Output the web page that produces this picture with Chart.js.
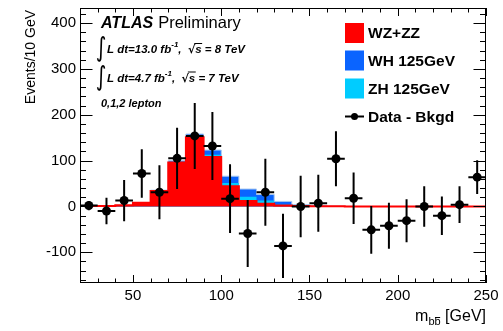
<!DOCTYPE html>
<html>
<head>
<meta charset="utf-8">
<script src="https://cdn.jsdelivr.net/npm/chart.js@4.4.1/dist/chart.umd.min.js"></script>
<style>
html,body{margin:0;padding:0;background:#fff;}
canvas{display:block;}
</style>
</head>
<body>
<canvas id="c" width="503" height="331"></canvas>
<script>
// ---- data ----
const binCenters = [25,35,45,55,65,75,85,95,105,115,125,135,145,155,165,175,185,195,205,215,225,235,245];
const wzzz   = [1,1,2.5,8,34,96,151,108,44,12,6,2,1,0.5,0.5,0,0,0,0,0,0,0,0];
const zh125  = [0,0,0,0,0.5,1.5,3,5,7,9,7,2,1,0.5,0,0,0,0,0,0,0,0,0];
const wh125  = [0,0,0,0,1,2,4,10,15,17,13,7,2,1,0.5,0,0,0,0,0,0,0,0];
const dataY  = [2,-10,13,72,31,105,154,132,17,-59,31,-86,0,7,104,18,-51,-42,-31,0,-20,4,64];
const dataErr= [10,29,45,53,59,67,72,74,75,73,73,70,67,62,60,56,52,50,47,44,42,40,37];
const binWidth = 10;
const xTickLabels = [50,100,150,200,250];
const yTickLabels = [-100,0,100,200,300,400];

const RED = '#ff0000', BLUE = '#0a64ff', CYAN = '#00ccff';
const FONT = '"Liberation Sans", Arial, Helvetica, sans-serif';

function stepPoints(vals){
  const pts = vals.map((v,i)=>({x: binCenters[i]-binWidth/2, y: v}));
  pts.push({x: binCenters[binCenters.length-1]+binWidth/2, y: vals[vals.length-1]});
  return pts;
}
const cumRed = wzzz.slice();
const cumZH = wzzz.map((v,i)=>v+zh125[i]);
const cumWH = cumZH.map((v,i)=>v+wh125[i]);

const decor = {
  id:'decor',
  afterDatasetsDraw(chart){
    const ctx = chart.ctx, xs = chart.scales.x, ys = chart.scales.y, a = chart.chartArea;
    ctx.save();
    ctx.strokeStyle = '#000'; ctx.lineWidth = 2;
    ctx.beginPath();
    ctx.rect(a.left, a.top, a.right-a.left, a.bottom-a.top); ctx.clip();
    ctx.beginPath();
    binCenters.forEach((c,i)=>{
      const px = xs.getPixelForValue(c), py = ys.getPixelForValue(dataY[i]);
      ctx.moveTo(px, ys.getPixelForValue(dataY[i]-dataErr[i]));
      ctx.lineTo(px, ys.getPixelForValue(dataY[i]+dataErr[i]));
      ctx.moveTo(xs.getPixelForValue(c-binWidth/2), py);
      ctx.lineTo(xs.getPixelForValue(c+binWidth/2), py);
    });
    ctx.stroke();
    ctx.restore();
  },
  afterDraw(chart){
    const ctx = chart.ctx, xs = chart.scales.x, ys = chart.scales.y, a = chart.chartArea;
    ctx.save();
    ctx.strokeStyle = '#000'; ctx.lineWidth = 1;
    ctx.strokeRect(a.left+0.5, a.top+0.5, a.right-a.left-1, a.bottom-a.top-1);
    ctx.beginPath();
    for(let v=-160; v<=430; v+=20){
      const py = Math.round(ys.getPixelForValue(v))+0.5;
      const L = (v%100===0)?12.5:6;
      ctx.moveTo(a.left, py); ctx.lineTo(a.left+L, py);
      ctx.moveTo(a.right, py); ctx.lineTo(a.right-L, py);
    }
    for(let v=20; v<=250; v+=10){
      const px = Math.round(xs.getPixelForValue(v))+0.5;
      const L = (v%50===0)?8:4.5;
      ctx.moveTo(px, a.bottom); ctx.lineTo(px, a.bottom-L);
      ctx.moveTo(px, a.top); ctx.lineTo(px, a.top+L);
    }
    ctx.stroke();

    ctx.fillStyle = '#000';
    ctx.save();
    ctx.translate(35, 10); ctx.rotate(-Math.PI/2);
    ctx.font = '14px '+FONT; ctx.textAlign='right'; ctx.textBaseline='alphabetic';
    ctx.fillText('Events/10 GeV', 0, 0);
    ctx.restore();

    ctx.textBaseline='alphabetic'; ctx.textAlign='left';
    const f1 = '16px '+FONT, f2 = '11px '+FONT;
    ctx.font = f1; const wG = ctx.measureText(' [GeV]').width, wm = ctx.measureText('m').width;
    ctx.font = f2; const wb = ctx.measureText('b').width;
    let x0 = 486 - wG - 2*wb - wm;
    ctx.font = f1; ctx.fillText('m', x0, 321);
    ctx.font = f2; ctx.fillText('b', x0+wm, 325); ctx.fillText('b', x0+wm+wb, 325);
    ctx.beginPath(); ctx.lineWidth=1;
    ctx.moveTo(x0+wm+wb+0.5, 317.5); ctx.lineTo(x0+wm+2*wb-0.5, 317.5); ctx.stroke();
    ctx.font = f1; ctx.fillText(' [GeV]', x0+wm+2*wb, 321);

    ctx.font = 'italic bold 16px '+FONT;
    ctx.fillText('ATLAS', 101, 28);
    const wA = ctx.measureText('ATLAS').width;
    ctx.font = '16.5px '+FONT;
    ctx.fillText('Preliminary', 101+wA+5, 28);

    function lumiLine(y, lumi, energy){
      ctx.save();
      ctx.translate(101, y+3); ctx.scale(0.85, 1.1);
      ctx.font = '24px "DejaVu Sans", sans-serif'; ctx.textAlign='center';
      ctx.fillText('\u222B', 0, 0);
      ctx.restore();
      ctx.font = 'italic bold 11.5px '+FONT;
      let x = 107;
      const t1 = 'L dt='+lumi+' fb';
      ctx.fillText(t1, x, y); x += ctx.measureText(t1).width;
      ctx.font = 'italic bold 8px '+FONT;
      ctx.fillText('-1', x, y-6); x += ctx.measureText('-1').width;
      ctx.font = 'italic bold 11.5px '+FONT;
      ctx.fillText(',  ', x, y); x += ctx.measureText(',  ').width;
      ctx.font = 'bold 11px "DejaVu Sans", sans-serif';
      ctx.fillText('\u221A', x, y); x += ctx.measureText('\u221A').width;
      ctx.font = 'italic bold 11.5px '+FONT;
      const ws = ctx.measureText('s').width;
      ctx.beginPath(); ctx.lineWidth = 1;
      ctx.moveTo(x-1, y-9.5); ctx.lineTo(x+ws+0.5, y-9.5); ctx.stroke();
      ctx.fillText('s = '+energy+' TeV', x, y);
    }
    lumiLine(53, '13.0', '8');
    lumiLine(81.5, '4.7', '7');
    ctx.font = 'italic bold 11px '+FONT;
    ctx.fillText('0,1,2 lepton', 101, 107);

    const items = [['WZ+ZZ', RED, 33], ['WH 125GeV', BLUE, 60.5], ['ZH 125GeV', CYAN, 88.5]];
    ctx.font = 'bold 15.5px '+FONT; ctx.textBaseline = 'middle';
    items.forEach(([t,c,yc])=>{
      ctx.fillStyle = c; ctx.fillRect(345, yc-10, 19, 20);
      ctx.fillStyle = '#000'; ctx.fillText(t, 368, yc+1);
    });
    const yd = 116.5;
    ctx.beginPath(); ctx.lineWidth = 2;
    ctx.moveTo(345, yd); ctx.lineTo(364, yd); ctx.stroke();
    ctx.beginPath(); ctx.arc(354.5, yd, 3.5, 0, 2*Math.PI); ctx.fill();
    ctx.fillText('Data - Bkgd', 368, yd+1);
    ctx.restore();
  }
};

new Chart(document.getElementById('c'), {
  type: 'scatter',
  data: {
    datasets: [
      { label:'Data - Bkgd', data: binCenters.map((c,i)=>({x:c, y:dataY[i]})),
        pointRadius: 4.5, pointBackgroundColor:'#000', pointBorderColor:'#000', pointBorderWidth:0, order:0 },
      { label:'WZ+ZZ', type:'line', data: stepPoints(cumRed), stepped:true, showLine:true,
        borderColor: RED, borderWidth: 2, backgroundColor: RED, fill:'origin', pointRadius:0, order:1 },
      { label:'ZH 125GeV', type:'line', data: stepPoints(cumZH), stepped:true, showLine:true,
        borderColor: CYAN, borderWidth: 0, backgroundColor: CYAN, fill:'origin', pointRadius:0, order:2 },
      { label:'WH 125GeV', type:'line', data: stepPoints(cumWH), stepped:true, showLine:true,
        borderColor: '#a8c8f0', borderWidth: 1, backgroundColor: BLUE, fill:'origin', pointRadius:0, order:3 }
    ]
  },
  options: {
    responsive:false, animation:false, devicePixelRatio:1,
    layout:{ padding:{ top:8, right:17, left:0, bottom:0 } },
    plugins:{ legend:{display:false}, tooltip:{enabled:false} },
    scales:{
      x:{ type:'linear', min:20, max:250,
        grid:{display:false, drawTicks:false}, border:{display:false},
        ticks:{ color:'#000', font:{family:FONT, size:15}, padding:4, maxRotation:0 },
        afterBuildTicks: s => { s.ticks = xTickLabels.map(v=>({value:v})); },
        afterFit: s => { s.height = 48; s.paddingLeft = 0; s.paddingRight = 0; } },
      y:{ type:'linear', min:-167, max:433,
        grid:{display:false, drawTicks:false}, border:{display:false},
        ticks:{ color:'#000', font:{family:FONT, size:15}, padding:4 },
        afterBuildTicks: s => { s.ticks = yTickLabels.map(v=>({value:v})); },
        afterFit: s => { s.width = 80; s.paddingTop = 0; s.paddingBottom = 0; } }
    }
  },
  plugins:[decor]
});
</script>
</body>
</html>
